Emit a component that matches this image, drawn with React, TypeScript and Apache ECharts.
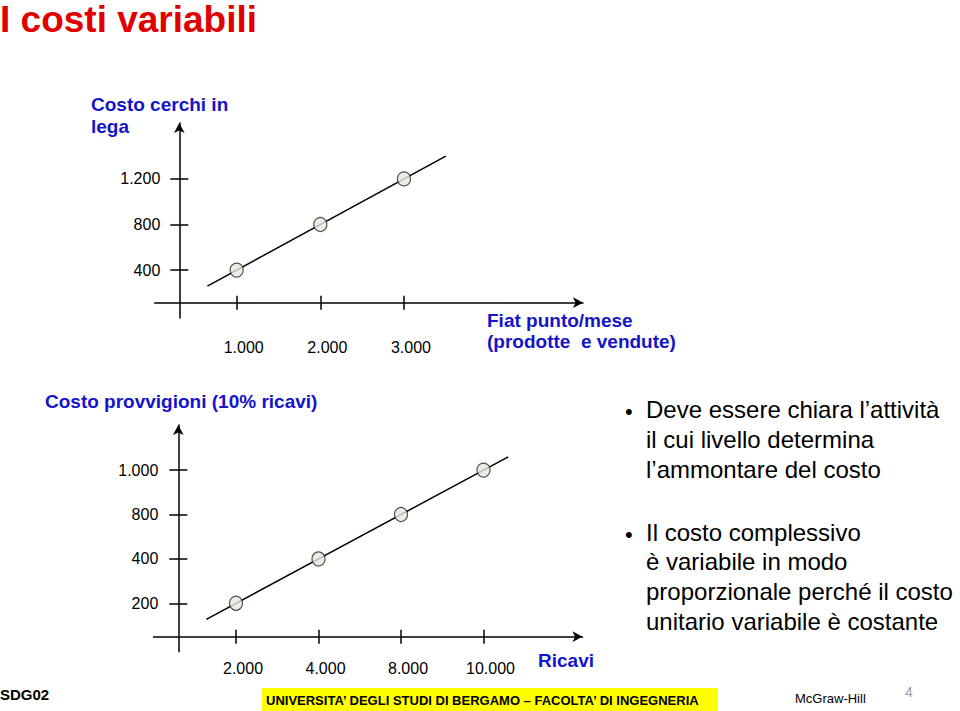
import React, { useEffect, useRef } from 'react';
import * as echarts from 'echarts';

// ---- Chart 1: Costo cerchi in lega vs Fiat punto/mese ----
const units1 = [1000, 2000, 3000];
const cost1 = [400, 800, 1200];
const xTicks1 = [1000, 2000, 3000];
const yTicks1 = [400, 800, 1200];
const trendX1 = [650, 3500];
const trendY1 = [260, 1400];

// ---- Chart 2: Costo provvigioni (10% ricavi) vs Ricavi (drawn not to scale: evenly spaced ticks) ----
const revenueLabels2 = ['2.000', '4.000', '8.000', '10.000'];
const commissionLabels2 = ['200', '400', '800', '1.000'];
const revenue2 = [2000, 4000, 8000, 10000];
const commission2 = [200, 400, 800, 1000];
const trendRank2 = [-0.36, 3.3];

const bullets1 = ['Deve essere chiara l\u2019attivit\u00e0', 'il cui livello determina', 'l\u2019ammontare del costo'];
const bullets2 = ['Il costo complessivo', '\u00e8 variabile in modo', 'proporzionale perch\u00e9 il costo', 'unitario variabile \u00e8 costante'];

const fmt = (v: number) => String(Math.round(v)).replace(/\B(?=(\d{3})+(?!\d))/g, '.');
const FONT = '"Liberation Sans", Arial, Helvetica, sans-serif';
const BLUE = '#1414c8';
const lineStyle = { color: '#000', width: 1.5 };

function xAxes(grid: number, min: number, max: number, offset: number, ticks: number[], fmtFn: (v: number) => string, margin: number) {
  return [
    {
      gridIndex: grid, type: 'value', position: 'bottom', min, max, offset,
      axisLine: { show: true, onZero: false, symbol: ['none', 'arrow'], symbolSize: [8, 10], lineStyle },
      axisTick: { show: true, customValues: ticks, length: 7, lineStyle },
      axisLabel: { show: true, customValues: ticks, formatter: fmtFn, margin, fontSize: 16, color: '#000', fontFamily: FONT, padding: [0, 0, 0, 14] },
      splitLine: { show: false },
    },
    {
      gridIndex: grid, type: 'value', position: 'bottom', min, max, offset,
      axisLine: { show: false, onZero: false },
      axisTick: { show: true, inside: true, customValues: ticks, length: 7, lineStyle },
      axisLabel: { show: false },
      splitLine: { show: false },
    },
  ];
}

function yAxes(grid: number, min: number, max: number, offset: number, ticks: number[], fmtFn: (v: number) => string, margin: number) {
  return [
    {
      gridIndex: grid, type: 'value', position: 'left', min, max, offset,
      axisLine: { show: true, onZero: false, symbol: ['none', 'arrow'], symbolSize: [8, 10], lineStyle },
      axisTick: { show: true, customValues: ticks, length: 9, lineStyle },
      axisLabel: { show: true, customValues: ticks, formatter: fmtFn, margin, fontSize: 16, color: '#000', fontFamily: FONT },
      splitLine: { show: false },
    },
    {
      gridIndex: grid, type: 'value', position: 'left', min, max, offset,
      axisLine: { show: false, onZero: false },
      axisTick: { show: true, inside: true, customValues: ticks, length: 9, lineStyle },
      axisLabel: { show: false },
      splitLine: { show: false },
    },
  ];
}

function txt(text: string, x: number, y: number, size: number, color: string, weight: string = 'normal', family: string = FONT, align: string = 'left') {
  return {
    type: 'text', x, y, silent: true,
    style: { text, fill: color, fontSize: size, fontWeight: weight, fontFamily: family, align, verticalAlign: 'middle' },
  };
}

export default function App() {
  const ref = useRef<HTMLDivElement>(null);
  useEffect(() => {
    if (!ref.current) return;
    const chart = echarts.init(ref.current, null, { renderer: 'svg' });

    const rank2 = (labels: string[], v: number) => labels.indexOf(fmt(v));
    const markerStyle = { color: '#e8e8df', borderColor: '#222', borderWidth: 1.2 };

    const graphic: any[] = [
      txt('I costi variabili', 0, 19, 37, '#e00000', 'bold'),
      txt('Costo cerchi in', 91, 104, 19, BLUE, 'bold'),
      txt('lega', 91, 126, 19, BLUE, 'bold'),
      txt('Fiat punto/mese', 487, 320, 19, BLUE, 'bold'),
      txt('(prodotte  e vendute)', 487, 341, 19, BLUE, 'bold'),
      txt('Costo provvigioni (10% ricavi)', 45, 401, 19, BLUE, 'bold'),
      txt('Ricavi', 538, 660, 19, BLUE, 'bold'),
      txt('\u2022', 625, 411, 22, '#000'),
      txt('\u2022', 625, 534, 22, '#000'),
      ...bullets1.map((s, i) => txt(s, 646, 409 + i * 30, 24, '#000')),
      ...bullets2.map((s, i) => txt(s, 646, 532 + i * 29.7, 24, '#000')),
      { type: 'rect', silent: true, shape: { x: 262, y: 688, width: 456, height: 23 }, style: { fill: '#ffff00' } },
      txt('UNIVERSITA\u2019 DEGLI STUDI DI BERGAMO \u2013 FACOLTA\u2019 DI INGEGNERIA', 266, 700, 13, '#000', 'bold', '"Liberation Sans Narrow", "Liberation Sans", Arial, sans-serif'),
      txt('SDG02', 0, 694, 15, '#000', 'bold'),
      txt('McGraw-Hill', 795, 698, 13, '#000'),
      txt('4', 905, 692, 14, '#999'),
    ];

    chart.setOption({
      animation: false,
      backgroundColor: '#fff',
      grid: [
        { left: 154.7, top: 123, width: 428.3, height: 195 },
        { left: 153.5, top: 425, width: 429, height: 226.7 },
      ],
      xAxis: [
        ...xAxes(0, 20, 5140, -15.3, xTicks1, fmt, 37),
        ...xAxes(1, -1, 4.2, -15, [0, 1, 2, 3], (v: number) => revenueLabels2[Math.round(v)] ?? '', 24),
      ],
      yAxis: [
        ...yAxes(0, -20, 1690, -24.6, yTicks1, fmt, 19),
        ...yAxes(1, -1.09, 4.016, -24.8, [0, 1, 2, 3], (v: number) => commissionLabels2[Math.round(v)] ?? '', 20),
      ],
      series: [
        {
          type: 'line', xAxisIndex: 0, yAxisIndex: 0, clip: false, silent: true,
          data: trendX1.map((x, i) => [x, trendY1[i]]), symbol: 'none', lineStyle: { color: '#000', width: 1.5 },
        },
        {
          type: 'scatter', xAxisIndex: 0, yAxisIndex: 0, z: 3,
          data: units1.map((u, i) => [u, cost1[i]]), symbol: 'circle', symbolSize: [13, 14], itemStyle: markerStyle,
        },
        {
          type: 'line', xAxisIndex: 2, yAxisIndex: 2, clip: false, silent: true,
          data: trendRank2.map((r) => [r, r]), symbol: 'none', lineStyle: { color: '#000', width: 1.5 },
        },
        {
          type: 'scatter', xAxisIndex: 2, yAxisIndex: 2, z: 3,
          data: revenue2.map((r, i) => [rank2(revenueLabels2, r), rank2(commissionLabels2, commission2[i])]),
          symbol: 'circle', symbolSize: [13, 14], itemStyle: markerStyle,
        },
      ],
      graphic,
    });
    return () => chart.dispose();
  }, []);
  return <div ref={ref} style={{ position: 'absolute', left: 0, top: 0, width: 960, height: 711 }} />;
}
